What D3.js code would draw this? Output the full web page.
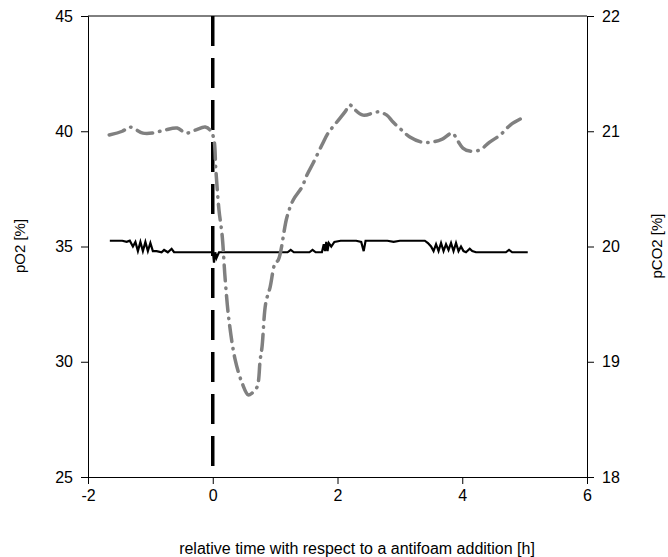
<!DOCTYPE html>
<html><head><meta charset="utf-8">
<script src="https://cdn.jsdelivr.net/npm/d3@7"></script>
<style>body{margin:0;background:#fff}svg{display:block}text{font-family:"Liberation Sans",Arial,sans-serif;fill:#000}</style>
</head><body><svg id="c" width="668" height="557"></svg>
<script>
// pO2 (left axis, gray dash-dot)
const pO2Time = [-1.66,-1.45,-1.33,-1.12,-0.97,-0.77,-0.57,-0.43,-0.28,-0.12,-0.03,0.02,0.05,0.10,0.15,0.20,0.26,0.36,0.47,0.57,0.63,0.71,0.76,0.79,0.85,0.92,1.00,1.05,1.19,1.29,1.43,1.51,1.61,1.75,1.85,1.99,2.12,2.20,2.25,2.41,2.65,2.79,2.89,3.03,3.16,3.35,3.52,3.68,3.84,3.92,4.01,4.12,4.28,4.44,4.61,4.77,4.93];
const pO2Value = [39.84,40.0,40.18,39.92,39.92,40.05,40.14,39.92,40.05,40.18,40.01,39.62,38.32,36.58,35.5,33.55,31.81,30.08,29.08,28.56,28.64,28.9,30.08,30.64,32.55,33.24,34.28,34.41,36.28,37.02,37.58,38.1,38.62,39.4,39.92,40.4,40.84,41.14,41.01,40.7,40.84,40.7,40.4,40.05,39.75,39.53,39.53,39.66,39.92,39.62,39.27,39.14,39.19,39.53,39.84,40.27,40.53];
// pCO2 (right axis, black solid)
const pCO2Time = [-1.65,-1.45,-1.38,-1.33,-1.28,-1.24,-1.2,-1.16,-1.12,-1.08,-1.04,-1.0,-0.96,-0.9,-0.82,-0.78,-0.72,-0.66,-0.62,-0.02,0.0,0.02,0.04,0.06,0.1,1.2,1.25,1.3,1.55,1.6,1.65,1.75,1.78,1.8,1.82,1.84,1.86,1.9,1.95,2.05,2.3,2.38,2.42,2.45,2.8,2.9,3.0,3.4,3.45,3.5,3.54,3.58,3.62,3.66,3.7,3.74,3.78,3.82,3.86,3.9,3.94,3.98,4.02,4.06,4.12,4.16,4.22,4.7,4.75,4.8,5.05];
const pCO2Value = [20.05,20.05,20.04,20.05,20.0,20.04,19.96,20.04,19.96,20.04,19.96,20.03,19.96,19.96,19.95,19.97,19.95,19.98,19.95,19.95,19.97,19.86,19.95,19.9,19.95,19.95,19.97,19.95,19.95,19.97,19.95,19.95,20.02,19.96,20.04,19.96,20.03,20.0,20.04,20.05,20.05,20.04,19.96,20.05,20.05,20.04,20.05,20.05,20.03,20.0,19.96,20.02,19.96,20.03,19.96,20.02,19.97,20.03,19.96,20.03,19.96,20.0,19.96,19.95,19.98,19.96,19.95,19.95,19.97,19.95,19.95];
const antifoamTime = [0];
const xTicks = [-2,0,2,4,6];
const yLeftTicks = [25,30,35,40,45];
const yRightTicks = [18,19,20,21,22];

const svg = d3.select("#c");
const x = d3.scaleLinear().domain([-2,6]).range([88,587]);
const yL = d3.scaleLinear().domain([25,45]).range([477,16]);
const yR = d3.scaleLinear().domain([18,22]).range([477,16]);

// top frame
svg.append("line").attr("x1",x(-2)).attr("x2",x(6)).attr("y1",yL(45)).attr("y2",yL(45)).attr("stroke","#000");

const fs = "16px";
const gx = svg.append("g").attr("transform",`translate(0,${yL(25)})`)
  .call(d3.axisBottom(x).tickValues(xTicks).tickSize(7).tickPadding(6).tickFormat(d3.format("d")));
const gl = svg.append("g").attr("transform",`translate(${x(-2)},0)`)
  .call(d3.axisLeft(yL).tickValues(yLeftTicks).tickSize(7).tickPadding(8).tickFormat(d3.format("d")));
const gr = svg.append("g").attr("transform",`translate(${x(6)},0)`)
  .call(d3.axisRight(yR).tickValues(yRightTicks).tickSize(7).tickPadding(8).tickFormat(d3.format("d")));
[gx,gl,gr].forEach(g=>{g.selectAll("text").style("font-size",fs).style("font-family","'Liberation Sans',Arial,sans-serif").attr("fill","#000");
  g.selectAll("path,line").attr("stroke","#000");});
gx.selectAll("text").text(d=>d<0?"-"+Math.abs(d):d);

// antifoam vertical line
svg.selectAll(".vl").data(antifoamTime).enter().append("line")
  .attr("x1",d=>x(d)).attr("x2",d=>x(d)).attr("y1",yL(45)).attr("y2",yL(25))
  .attr("stroke","#000").attr("stroke-width",3.5).attr("stroke-dasharray","30,12");

const co2 = pCO2Time.map((t,i)=>[t,pCO2Value[i]]);
svg.append("path").datum(co2).attr("fill","none").attr("stroke","#000").attr("stroke-width",2.2)
  .attr("d",d3.line().x(d=>x(d[0])).y(d=>yR(d[1])));

const o2 = pO2Time.map((t,i)=>[t,pO2Value[i]]);
svg.append("path").datum(o2).attr("fill","none").attr("stroke","#808080").attr("stroke-width",3.5)
  .attr("stroke-linecap","round").attr("stroke-dasharray","16,7,0.5,7")
  .attr("d",d3.line().curve(d3.curveCatmullRom).x(d=>x(d[0])).y(d=>yL(d[1])));

svg.append("text").attr("transform","translate(25,246) rotate(-90)").attr("text-anchor","middle").style("font-size","15px").text("pO2 [%]");
svg.append("text").attr("transform","translate(662,246) rotate(-90)").attr("text-anchor","middle").style("font-size","15px").text("pCO2 [%]");
svg.append("text").attr("x",357).attr("y",554).attr("text-anchor","middle").style("font-size","16px").text("relative time with respect to a antifoam addition [h]");
</script></body></html>
